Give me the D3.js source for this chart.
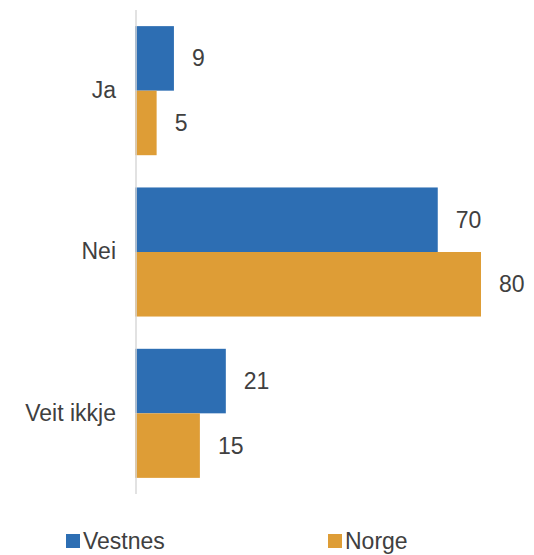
<!DOCTYPE html>
<html><head><meta charset="utf-8">
<script src="https://cdn.jsdelivr.net/npm/d3@7"></script>
<style>body{margin:0;background:#fff}svg{display:block}text{font-family:"Liberation Sans",Arial,sans-serif;fill:#404040}</style>
</head><body><svg id="c" width="534" height="555"></svg>
<script>
const categories = ["Ja", "Nei", "Veit ikkje"];
const seriesNames = ["Vestnes", "Norge"];
const vestnes = [9, 70, 21];
const norge = [5, 80, 15];
const colors = ["#2D6EB3", "#DE9D36"];

const svg = d3.select("#c");
const fs = 23;
const x = d3.scaleLinear().domain([0, 80]).range([135, 481]);
const y = d3.scaleBand().domain(categories).range([10, 494]).paddingInner(0.2).paddingOuter(0.1);
const ySub = d3.scaleBand().domain(seriesNames).range([0, y.bandwidth()]);

const data = categories.map((c, i) => ({cat: c, vals: [vestnes[i], norge[i]]}));

const g = svg.selectAll("g.grp").data(data).join("g").attr("class", "grp")
  .attr("transform", d => `translate(0,${y(d.cat)})`);
g.selectAll("rect").data(d => d.vals.map((v, j) => ({v, s: seriesNames[j], j})))
  .join("rect")
  .attr("x", x(0)).attr("y", d => ySub(d.s))
  .attr("width", d => x(d.v) - x(0)).attr("height", ySub.bandwidth())
  .attr("fill", d => colors[d.j]);
g.selectAll("text.val").data(d => d.vals.map((v, j) => ({v, s: seriesNames[j], j})))
  .join("text").attr("class", "val")
  .attr("x", d => x(d.v) + 18).attr("y", d => ySub(d.s) + ySub.bandwidth() / 2)
  .attr("dy", "0.35em").attr("font-size", fs).text(d => d.v);

// axis
const axis = d3.axisLeft(y).tickSize(0).tickPadding(20);
const ag = svg.append("g").attr("transform", `translate(136,0)`).call(axis);
ag.select(".domain").attr("stroke", "#d9d9d9").attr("stroke-width", 1.5).attr("d", "M0,10V494");
ag.selectAll(".tick text").attr("font-size", fs).attr("fill", "#404040")
  .attr("font-family", '"Liberation Sans",Arial,sans-serif');

// legend
const legX = [66, 328];
const lg = svg.selectAll("g.leg").data(seriesNames).join("g").attr("class", "leg")
  .attr("transform", (d, i) => `translate(${legX[i]},534)`);
lg.append("rect").attr("width", 14).attr("height", 14).attr("fill", (d, i) => colors[i]);
lg.append("text").attr("x", 17).attr("y", 15).attr("font-size", fs).text(d => d);
</script></body></html>
